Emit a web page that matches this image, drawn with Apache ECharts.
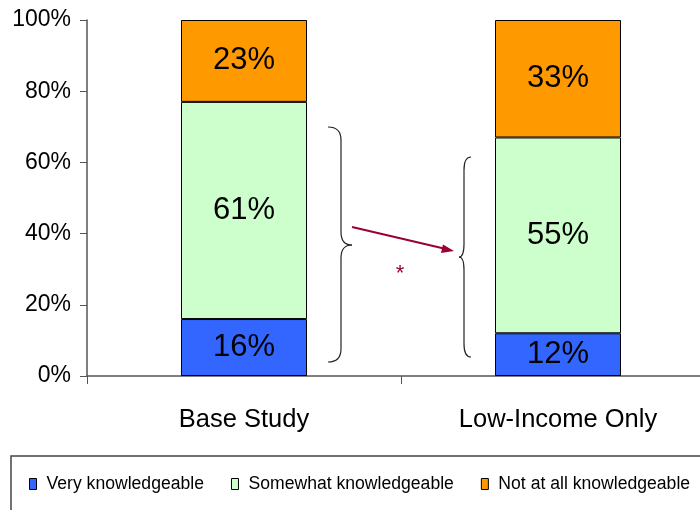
<!DOCTYPE html>
<html>
<head>
<meta charset="utf-8">
<script src="https://cdn.jsdelivr.net/npm/echarts@6/dist/echarts.min.js"></script>
<style>
  html, body { margin: 0; padding: 0; background: #fff; }
  #main { width: 700px; height: 510px; }
</style>
</head>
<body>
<div id="main"></div>
<script>
// данные диаграммы
const categories = ['Base Study', 'Low-Income Only'];
const seriesNames = ['Very knowledgeable', 'Somewhat knowledgeable', 'Not at all knowledgeable'];
const veryData = [16, 12];
const somewhatData = [61, 55];
const notAtAllData = [23, 33];
const yTicks = [0, 20, 40, 60, 80, 100];

const colors = ['#3366FF', '#CCFFCC', '#FF9900'];
const font = 'Liberation Sans, Arial, sans-serif';

let container = document.getElementById('main');
let chart = echarts.init(container);

function makeSeries(name, data, color) {
    return {
        name: name,
        type: 'bar',
        stack: 'total',
        barWidth: 126,
        data: data,
        itemStyle: { color: color, borderColor: '#000', borderWidth: 1 },
        label: {
            show: true,
            position: 'inside',
            formatter: '{c}%',
            color: '#000',
            fontFamily: font,
            fontSize: 31
        },
        emphasis: { disabled: true }
    };
}

// фигурная скобка из кривых и линий
// x0 - концы, xs - вертикаль, xt - острие
function brace(x0, xs, xt, yTop, yMid, yBot) {
    const st = { fill: 'none', stroke: '#222', lineWidth: 1.2 };
    const r = 13;
    return [
        { type: 'bezierCurve', silent: true, style: st,
          shape: { x1: x0, y1: yTop, x2: xs, y2: yTop + r, cpx1: xs, cpy1: yTop } },
        { type: 'line', silent: true, style: st,
          shape: { x1: xs, y1: yTop + r, x2: xs, y2: yMid - r } },
        { type: 'bezierCurve', silent: true, style: st,
          shape: { x1: xs, y1: yMid - r, x2: xt, y2: yMid, cpx1: xs, cpy1: yMid } },
        { type: 'bezierCurve', silent: true, style: st,
          shape: { x1: xt, y1: yMid, x2: xs, y2: yMid + r, cpx1: xs, cpy1: yMid } },
        { type: 'line', silent: true, style: st,
          shape: { x1: xs, y1: yMid + r, x2: xs, y2: yBot - r } },
        { type: 'bezierCurve', silent: true, style: st,
          shape: { x1: xs, y1: yBot - r, x2: x0, y2: yBot, cpx1: xs, cpy1: yBot } }
    ];
}

const arrowColor = '#990033';

const option = {
    animation: false,
    textStyle: { fontFamily: font },
    grid: {
        left: 87,
        top: 20,
        right: -15,
        bottom: 134,
        outerBoundsMode: 'none'
    },
    legend: {
        left: 24,
        top: 470,
        itemWidth: 7,
        itemHeight: 11,
        itemGap: 27,
        icon: 'rect',
        data: seriesNames,
        itemStyle: { borderColor: '#000', borderWidth: 1 },
        textStyle: { fontFamily: font, fontSize: 17.6, color: '#000', padding: [0, 0, 0, 5] }
    },
    xAxis: {
        type: 'category',
        data: categories,
        axisLine: { lineStyle: { color: '#555', width: 1.5 } },
        axisTick: { show: true, length: 8, lineStyle: { color: '#555' } },
        axisLabel: {
            color: '#000',
            fontSize: 25.5,
            margin: 31,
            fontFamily: font
        }
    },
    yAxis: {
        type: 'value',
        min: yTicks[0],
        max: yTicks[yTicks.length - 1],
        interval: 20,
        axisLine: { show: true, lineStyle: { color: '#555', width: 1.5 } },
        axisTick: { show: true, length: 7, lineStyle: { color: '#555' } },
        splitLine: { show: false },
        axisLabel: {
            formatter: '{value}%',
            color: '#000',
            fontSize: 23,
            margin: 16,
            fontFamily: font
        }
    },
    series: [
        makeSeries(seriesNames[0], veryData, colors[0]),
        makeSeries(seriesNames[1], somewhatData, colors[1]),
        makeSeries(seriesNames[2], notAtAllData, colors[2])
    ],
    graphic: [
        {
            type: 'rect',
            shape: { x: 11, y: 456, width: 710, height: 80 },
            style: { fill: 'none', stroke: '#444', lineWidth: 1.5 },
            silent: true
        },
        ...brace(328, 341, 352, 127, 245, 362),
        ...brace(471, 464, 459, 157, 257, 357),
        {
            type: 'line',
            shape: { x1: 352, y1: 227, x2: 446, y2: 249 },
            style: { stroke: arrowColor, lineWidth: 2 },
            silent: true
        },
        {
            type: 'polygon',
            shape: { points: [[454, 251], [443, 244.5], [441, 253]] },
            style: { fill: arrowColor },
            silent: true
        },
        {
            type: 'text',
            x: 400,
            y: 274,
            style: {
                text: '*',
                fill: arrowColor,
                fontSize: 22,
                fontFamily: font,
                align: 'center',
                verticalAlign: 'middle'
            },
            silent: true
        }
    ]
};

chart.setOption(option);
</script>
</body>
</html>
